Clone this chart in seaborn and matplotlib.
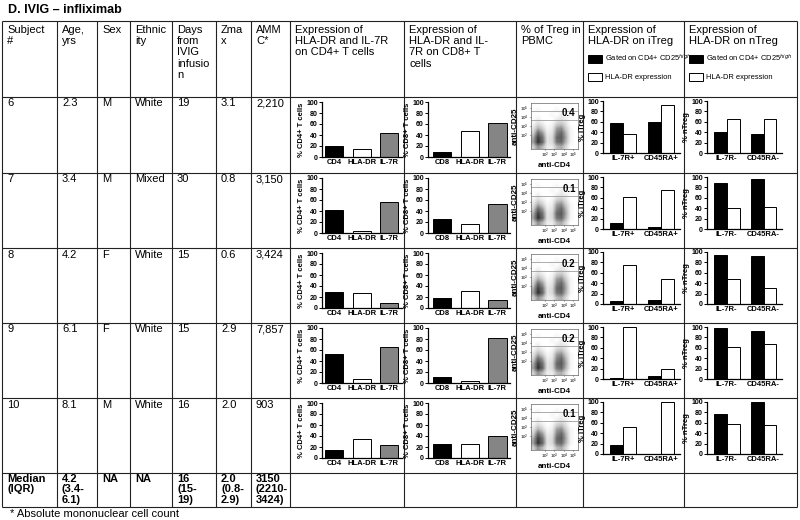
import pandas as pd
import seaborn as sns
import matplotlib.pyplot as plt

sns.set_theme(style="ticks")
plt.rcParams["font.family"] = ["Liberation Sans", "DejaVu Sans"]
plt.rcParams["mathtext.fontset"] = "custom"
plt.rcParams["mathtext.rm"] = "Liberation Sans"
for key in ("text.color", "axes.labelcolor", "xtick.color", "ytick.color"):
    plt.rcParams[key] = "black"

W, H = 800, 520

# --- table data ---
title = "D. IVIG – infliximab"
headers = ["Subject\n#", "Age,\nyrs", "Sex", "Ethnic\nity", "Days\nfrom\nIVIG\ninfusio\nn",
           "Zma\nx", "AMM\nC*", "Expression of\nHLA-DR and IL-7R\non CD4+ T cells",
           "Expression of\nHLA-DR and IL-\n7R on CD8+ T\ncells", "% of Treg in\nPBMC",
           "Expression of\nHLA-DR on iTreg", "Expression of\nHLA-DR on nTreg"]
subjects = ["6", "7", "8", "9", "10"]
ages = ["2.3", "3.4", "4.2", "6.1", "8.1"]
sexes = ["M", "M", "F", "F", "M"]
ethnicity = ["White", "Mixed", "White", "White", "White"]
days = ["19", "30", "15", "15", "16"]
zmax = ["3.1", "0.8", "0.6", "2.9", "2.0"]
ammc = ["2,210", "3,150", "3,424", "7,857", "903"]
median_row = ["Median\n(IQR)", "4.2\n(3.4-\n6.1)", "NA", "NA", "16\n(15-\n19)",
              "2.0\n(0.8-\n2.9)", "3150\n(2210-\n3424)"]
footnote = "* Absolute mononuclear cell count"

# --- mini chart data (% of cells) ---
cd4_markers = ["CD4", "HLA-DR", "IL-7R"]
cd4_pct = [[20, 15, 43], [42, 4, 57], [30, 27, 9], [52, 7, 66], [14, 34, 24]]
cd8_markers = ["CD8", "HLA-DR", "IL-7R"]
cd8_pct = [[9, 48, 62], [25, 16, 52], [19, 31, 15], [11, 3, 82], [26, 25, 40]]
treg_pct = ["0.4", "0.1", "0.2", "0.2", "0.1"]
gates = ["Gated on CD4+ CD25$^{high}$", "HLA-DR expression"]
itreg_subsets = ["IL-7R+", "CD45RA+"]
itreg_gated = [[58, 59], [12, 3], [5, 8], [2, 6], [18, 0]]
itreg_hladr = [[36, 92], [61, 75], [75, 49], [100, 19], [52, 100]]
ntreg_subsets = ["IL-7R-", "CD45RA-"]
ntreg_gated = [[41, 36], [88, 97], [95, 92], [98, 92], [77, 100]]
ntreg_hladr = [[66, 66], [41, 42], [48, 31], [62, 67], [57, 56]]

# rough density of the CD4/CD25 dot plot (rows: high CD25 -> low)
flow_grid = [
    [0, 0, 0, 0, 0, 0, 0, 0, 0, 0],
    [0, 0.08, 0, 0, 0, 0.08, 0, 0.12, 0, 0],
    [0, 0, 0, 0, 0.08, 0, 0.15, 0, 0.08, 0],
    [0, 0.15, 0, 0, 0, 0.15, 0.2, 0.15, 0, 0],
    [0.1, 0.25, 0.15, 0, 0.08, 0.3, 0.35, 0.2, 0, 0],
    [0.2, 0.45, 0.3, 0.08, 0.15, 0.5, 0.55, 0.3, 0.08, 0],
    [0.3, 0.7, 0.5, 0.15, 0.2, 0.6, 0.7, 0.4, 0.08, 0],
    [0.45, 0.85, 0.65, 0.2, 0.25, 0.7, 0.75, 0.45, 0.08, 0],
    [0.5, 0.9, 0.7, 0.2, 0.25, 0.65, 0.7, 0.4, 0.08, 0],
    [0.3, 0.55, 0.4, 0.15, 0.15, 0.4, 0.45, 0.25, 0, 0],
]

bar_colors = {"CD4": "black", "CD8": "black", "HLA-DR": "white", "IL-7R": "#858585"}
gate_colors = dict(zip(gates, ["black", "white"]))

# layout in pixels
col_x = [2, 57, 97, 130, 172, 216, 251, 290, 404, 516, 583, 684, 797]
row_y = [21, 97, 173, 248, 323, 398, 473, 507]
FS = 8

fig = plt.figure(figsize=(W / 100, H / 100), dpi=100)
bg = fig.add_axes([0, 0, 1, 1])
bg.set_xlim(0, W)
bg.set_ylim(H, 0)
bg.axis("off")

bg.text(8, 10, title, fontsize=9, fontweight="bold", va="center")
bg.hlines(row_y, col_x[0], col_x[-1], color="#222222", lw=0.8)
bg.vlines(col_x, row_y[0], row_y[-1], color="#222222", lw=0.8)

for j, h in enumerate(headers):
    bg.text(col_x[j] + 5, row_y[0] + 4, h, fontsize=FS, va="top", linespacing=1.15)

table_cols = [subjects, ages, sexes, ethnicity, days, zmax, ammc]
for i in range(len(subjects)):
    for j, col in enumerate(table_cols):
        bg.text(col_x[j] + 5, row_y[i + 1] + 1.5, col[i], fontsize=FS, va="top")
for j, v in enumerate(median_row):
    bg.text(col_x[j] + 5, row_y[6] + 0.5, v, fontsize=FS, va="top",
            fontweight="bold", linespacing=1.08)
bg.text(10, 514, footnote, fontsize=FS, va="center")


def px_axes(x0, y0, x1, y1):
    return fig.add_axes([x0 / W, 1 - y1 / H, (x1 - x0) / W, (y1 - y0) / H])


def style_bars(ax, ylabel, xlim):
    ax.set_ylim(0, 100)
    ax.set_xlim(*xlim)
    ax.set_yticks(range(0, 101, 20))
    ax.set_xlabel("")
    ax.set_ylabel(ylabel, fontsize=5.5, fontweight="bold", labelpad=1)
    ax.tick_params(axis="y", labelsize=5, length=2, width=0.7, pad=1)
    ax.tick_params(axis="x", labelsize=5.5, length=0, pad=1.5)
    for lab in ax.get_xticklabels() + ax.get_yticklabels():
        lab.set_fontweight("bold")
    sns.despine(ax=ax)
    for s in ("left", "bottom"):
        ax.spines[s].set_linewidth(0.9)
        ax.spines[s].set_color("black")
    ax.set_facecolor("none")


def flow_plot(ax, pct):
    ax.imshow(flow_grid, cmap="Greys", vmin=0, vmax=1.05, extent=(0.5, 5.5, 0.5, 5.5),
              aspect="auto", interpolation="bilinear")
    ax.axhline(4.6, color="0.55", lw=0.5)
    ax.axhline(3.6, color="0.55", lw=0.5)
    ax.set_xlim(0.5, 5.5)
    ax.set_ylim(0.5, 5.5)
    ticks = [2, 3, 4, 5]
    labs = [f"$10^{t}$" for t in ticks]
    ax.set_xticks(ticks, labs)
    ax.set_yticks(ticks, labs)
    ax.tick_params(labelsize=3.2, length=1, width=0.4, pad=0.5)
    ax.text(0.95, 0.9, pct, transform=ax.transAxes, ha="right", va="top",
            fontsize=7, fontweight="bold")
    ax.set_xlabel("anti-CD4", fontsize=5.8, fontweight="bold", labelpad=1.5)
    ax.set_ylabel("anti-CD25", fontsize=5.8, fontweight="bold", labelpad=1)
    for s in ax.spines.values():
        s.set_linewidth(0.5)
        s.set_color("0.4")


for i in range(len(subjects)):
    top = row_y[i + 1]

    ax = px_axes(322, top + 5, 402, top + 60)
    df = pd.DataFrame({"marker": cd4_markers, "pct": cd4_pct[i]})
    sns.barplot(data=df, x="marker", y="pct", hue="marker", palette=bar_colors,
                legend=False, width=0.65, edgecolor="black", linewidth=0.7, ax=ax)
    style_bars(ax, "% CD4+ T cells", (-0.44, 2.47))

    ax = px_axes(428, top + 5, 510, top + 60)
    df = pd.DataFrame({"marker": cd8_markers, "pct": cd8_pct[i]})
    sns.barplot(data=df, x="marker", y="pct", hue="marker", palette=bar_colors,
                legend=False, width=0.65, edgecolor="black", linewidth=0.7, ax=ax)
    style_bars(ax, "% CD8+ T cells", (-0.5, 2.45))

    ax = px_axes(531, top + 6, 578, top + 52)
    flow_plot(ax, treg_pct[i])

    for x0, x1, subsets, gated, hladr, lab, hx in [
        (603, 680, itreg_subsets, itreg_gated, itreg_hladr, "% iTreg", col_x[10]),
        (707, 782, ntreg_subsets, ntreg_gated, ntreg_hladr, "% nTreg", col_x[11]),
    ]:
        ax = px_axes(x0, top + 4, x1, top + 56)
        df = pd.DataFrame({"subset": subsets * 2, "pct": gated[i] + hladr[i],
                           "gate": [gates[0]] * 2 + [gates[1]] * 2})
        sns.barplot(data=df, x="subset", y="pct", hue="gate", order=subsets,
                    hue_order=gates, palette=gate_colors, width=0.7,
                    edgecolor="black", linewidth=0.7, legend=(i == 0), ax=ax)
        style_bars(ax, lab, (-0.53, 1.5))
        if i == 0:
            sns.move_legend(ax, "upper left", bbox_to_anchor=((hx + 5) / W, 1 - 53 / H),
                            bbox_transform=fig.transFigure, title=None, frameon=False,
                            fontsize=5.4, handlelength=1.8, handleheight=1.3,
                            handletextpad=0.5, labelspacing=1.1, borderpad=0,
                            borderaxespad=0)

fig.savefig("out.png", dpi=100)
